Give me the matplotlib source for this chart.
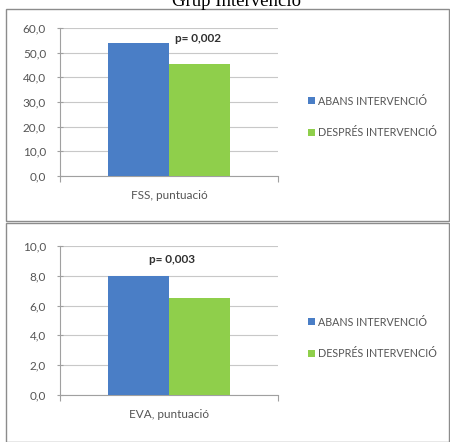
import matplotlib
matplotlib.use("Agg")
import matplotlib.pyplot as plt
from matplotlib.patches import Rectangle, Patch

# Chart data
series_names = ["ABANS INTERVENCIÓ", "DESPRÉS INTERVENCIÓ"]
series_colors = ["#4a7ec6", "#8fcf4b"]
fss_values = [53.8, 45.6]
eva_values = [8.0, 6.5]
fss_label = "FSS, puntuació"
eva_label = "EVA, puntuació"
fss_pvalue = "p= 0,002"
eva_pvalue = "p= 0,003"
fss_ticks = [0, 10, 20, 30, 40, 50, 60]
eva_ticks = [0, 2, 4, 6, 8, 10]
title = "Grup Intervenció"

W, H = 450, 442
fig = plt.figure(figsize=(W / 100, H / 100), dpi=100)
fig.patch.set_facecolor("white")
plt.rcParams["font.family"] = ["Lato", "DejaVu Sans"]

def fx(px):
    return px / W

def fy(py):
    return 1 - py / H

# Panel frames
for top, bottom in [(9, 220.5), (222.5, 442)]:
    fig.patches.append(Rectangle((fx(6), fy(bottom)), fx(449) - fx(6), fy(top) - fy(bottom),
                                 transform=fig.transFigure, fill=False,
                                 edgecolor="#8c8c8c", linewidth=1.0))

def draw_panel(rect, values, ticks, xlabel, ptext, ptext_xy, legend_center_px):
    ax = fig.add_axes(rect)
    w = 0.282
    ax.bar([-w, 0], values, width=w, align="edge", color=series_colors, zorder=3)
    ax.set_xlim(-0.5, 0.5)
    ax.set_ylim(ticks[0], ticks[-1])
    ax.set_yticks(ticks)
    ax.set_yticklabels([f"{t:.1f}".replace(".", ",") for t in ticks],
                       fontsize=8.5, color="#555555")
    ax.yaxis.grid(True, color="#c8c8c8", linewidth=0.8, zorder=0)
    ax.set_xticks([-0.5, 0.5])
    ax.set_xticklabels([])
    ax.tick_params(axis="y", length=4, width=0.8, color="#a0a0a0", direction="inout", pad=8)
    ax.tick_params(axis="x", length=4, width=0.8, color="#a0a0a0", direction="out")
    for s in ["top", "right"]:
        ax.spines[s].set_visible(False)
    for s in ["left", "bottom"]:
        ax.spines[s].set_color("#a0a0a0")
        ax.spines[s].set_linewidth(0.8)
    ax.text(0, -0.13, xlabel, transform=ax.get_xaxis_transform(),
            ha="center", va="center", fontsize=8.5, color="#555555")
    ax.text(ptext_xy[0], ptext_xy[1], ptext, ha="center", va="center",
            fontsize=8.5, fontweight="bold", color="#303030")
    handles = [Patch(facecolor=c, edgecolor="none") for c in series_colors]
    fig.legend(handles, series_names, loc="center left",
               bbox_to_anchor=(fx(298), fy(legend_center_px)),
               frameon=False, fontsize=7.75, handlelength=0.67, handleheight=0.67,
               handletextpad=0.3, labelspacing=1.95, labelcolor="#555555")
    return ax

draw_panel([fx(60), fy(176), fx(278) - fx(60), fy(28) - fy(176)],
           fss_values, fss_ticks, fss_label, fss_pvalue, (0.131, 55.9), 117)
draw_panel([fx(60), fy(395), fx(278) - fx(60), fy(246) - fy(395)],
           eva_values, eva_ticks, eva_label, eva_pvalue, (0.012, 9.1), 338)

fig.text(fx(237), fy(6), title, ha="center", va="baseline",
         fontsize=13.5, family="Liberation Serif", color="black")

fig.savefig("out.png", dpi=100)
